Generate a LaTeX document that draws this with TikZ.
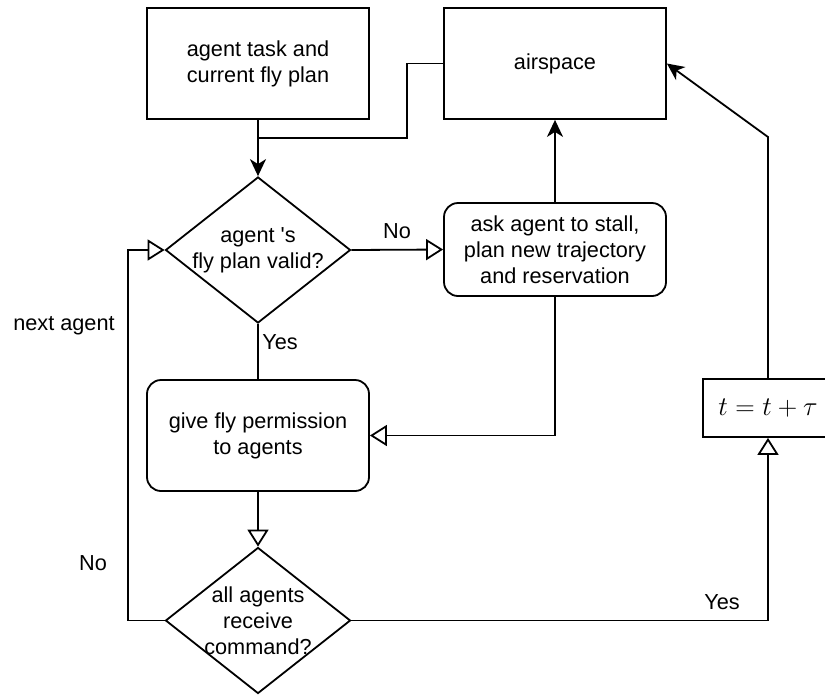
\documentclass[tikz,border=0pt]{standalone}
\usepackage{graphicx}
\usepackage{fontspec}
\setmainfont{Liberation Sans}
\usetikzlibrary{shapes.geometric,arrows.meta}
\begin{document}
\begin{tikzpicture}[x=1pt,y=-1pt,
  font=\fontsize{21.7}{26}\selectfont,
  line width=1.8pt,
  box/.style={draw, minimum width=222pt, minimum height=111pt, align=center, inner sep=2pt},
  rbox/.style={box, rounded corners=14pt},
  dec/.style={draw, diamond, minimum width=185pt, minimum height=146pt, inner sep=0pt},
  openarr/.style={-{Triangle[open,length=17pt,width=21pt]}},
  fillarr/.style={-{Stealth[length=17pt,width=16pt,inset=5pt]}},
  lbl/.style={inner sep=0pt}]
\path[use as bounding box, clip] (0,0) rectangle (825,694);
\node[box] (task) at (258,63.5) {agent task and\\current fly plan};
\node[box] (air) at (555,63.5) {airspace};
\node[dec, label={[align=center,inner sep=0pt]center:agent \textquotesingle s\\fly plan valid?}] (d1) at (258,250) {};
\node[rbox, minimum height=93pt] (stall) at (555,249.5) {ask agent to stall,\\plan new trajectory\\and reservation};
\node[rbox] (give) at (258,435.5) {give fly permission\\to agents};
\node[dec, label={[align=center,inner sep=0pt]center:all agents\\receive\\command?}] (d2) at (258,620.5) {};
\node[draw, minimum width=130pt, minimum height=58pt, font=\fontsize{20.74}{24}\selectfont] (tt) at (768,408) {\scalebox{1.3}{$t=t+\tau$}};
% connectors
\coordinate (j) at (258,138);
\coordinate (j1) at (407,138);
\draw[fillarr] (task.south) -- (d1.north);
\draw (air.west) -| (j1) -- (j);
\draw[openarr] (d1.east) -- (stall.west);
\draw[fillarr] (stall.north) -- (air.south);
\draw (d1.south) -- (give.north);
\draw[openarr] (stall.south) |- (give.east);
\draw[openarr] (give.south) -- (d2.north);
\coordinate (cno) at (128,620.5);
\draw[openarr] (d2.west) -- (cno) |- (d1.west);
\draw[openarr] (d2.east) -| (tt.south);
\coordinate (bend) at (768,137);
\draw[fillarr] (tt.north) -- (bend) -- (air.east);
% labels
\node[lbl] (no1) at (397,231) {No};
\node[lbl] (yes1) at (280,342) {Yes};
\node[lbl] (next) at (64,326) {next agent};
\node[lbl] (no2) at (93,563) {No};
\node[lbl] (yes2) at (722,602) {Yes};
\end{tikzpicture}
\end{document}
